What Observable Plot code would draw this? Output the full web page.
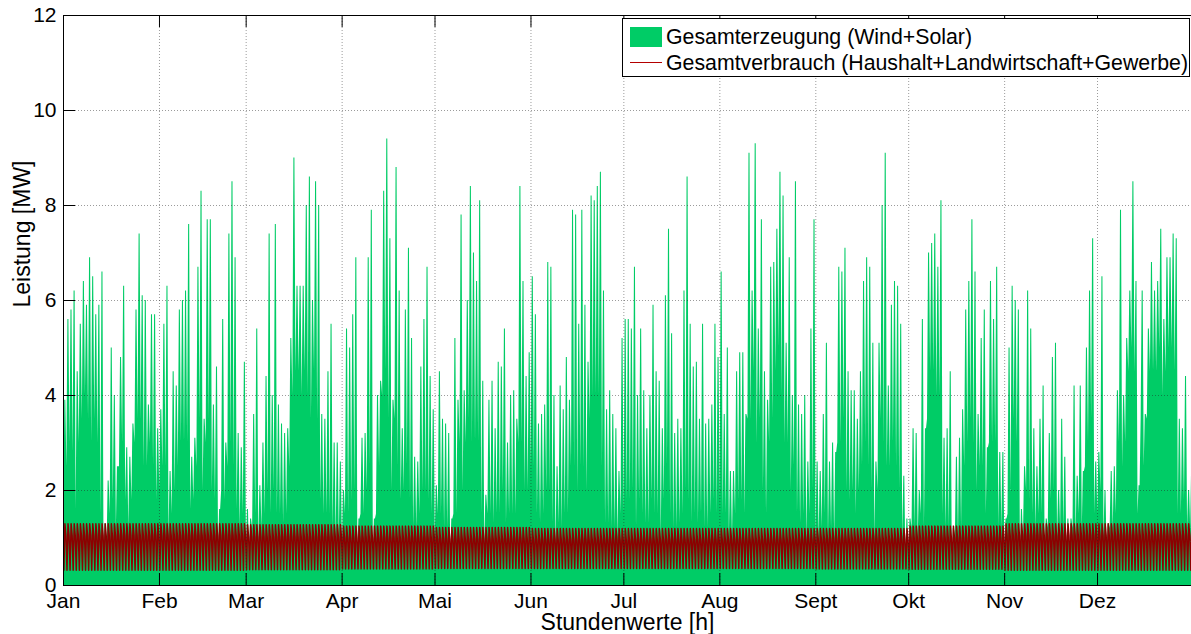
<!DOCTYPE html>
<html>
<head>
<meta charset="utf-8">
<script src="https://cdn.jsdelivr.net/npm/d3@7"></script>
<script src="https://cdn.jsdelivr.net/npm/@observablehq/plot@0.6"></script>
<style>
  body { margin: 0; background: #fff; font-family: "Liberation Sans", Arial, sans-serif; }
  #wrap { position: relative; width: 1191px; height: 634px; overflow: hidden; }
  #legend { position: absolute; left: 622px; top: 18px; width: 566px; height: 57px;
            border: 1px solid #000; background: #fff; font-size: 21.3px; color: #000; }
  #legend .patch { position: absolute; left: 7px; top: 8px; width: 32px; height: 20px; background: #00cc66; }
  #legend .strich { position: absolute; left: 7px; top: 43px; width: 32px; height: 0; border-top: 1px solid #b40000; }
  #legend .txt { position: absolute; left: 43px; line-height: 24px; white-space: nowrap; }
</style>
</head>
<body>
<div id="wrap">
  <div id="chart"></div>
  <div id="legend">
    <div class="patch"></div>
    <div class="txt" style="top:6px">Gesamterzeugung (Wind+Solar)</div>
    <div class="strich"></div>
    <div class="txt" style="top:32px">Gesamtverbrauch (Haushalt+Landwirtschaft+Gewerbe)</div>
  </div>
</div>
<script>
// Monate und Achsenbeschriftung
const monatsNamen = ["Jan", "Feb", "Mar", "Apr", "Mai", "Jun", "Jul", "Aug", "Sept", "Okt", "Nov", "Dez"];
const monatsTage = [31, 28, 31, 30, 31, 30, 31, 31, 30, 31, 30, 31];
const yTicks = [0, 2, 4, 6, 8, 10, 12];

// Erzeugung (Wind+Solar): Tageshöchstwerte in MW, Tag 1..365
const tagesMax = [
  3.9,5.6,5.8,6.2,4.5,5.5,6.4,5.9,6.9,6.5,5.7,5.9,6.6,1.3,2.2,5.0,4.0,2.5,4.8,6.3,2.9,2.7,3.4,5.8,7.4,6.1,6.0,3.8,5.7,5.7,
  3.3,3.7,5.5,6.3,2.4,4.5,4.2,5.8,6.0,6.2,7.6,2.7,3.1,6.7,8.3,3.5,7.7,7.7,3.8,4.6,1.6,5.6,3.0,7.4,8.5,6.9,3.2,2.9,4.7,1.6,1.4,
  3.6,5.4,2.1,3.0,4.4,7.4,4.0,7.6,3.8,3.4,3.2,3.3,5.2,9.0,6.3,6.3,6.3,8.0,8.6,6.0,8.5,8.0,3.6,3.5,4.5,5.5,3.0,3.0,2.6,2.0,5.4,
  5.0,5.7,6.9,1.4,3.1,3.2,6.9,7.9,1.4,4.0,4.3,8.3,9.4,7.3,3.9,8.8,6.2,3.3,5.8,7.1,5.2,2.7,2.6,4.6,5.6,6.7,4.4,3.7,2.1,4.5,3.5,
  3.4,3.2,1.4,5.2,3.9,7.8,4.1,6.0,8.4,7.0,6.4,8.1,4.3,1.9,3.9,4.3,3.3,4.7,4.6,5.4,3.0,4.0,4.1,3.5,8.4,6.4,4.4,4.9,6.5,5.7,3.4,
  3.6,3.8,6.8,6.7,4.0,2.5,4.2,3.7,4.8,3.9,7.9,7.8,5.5,7.9,5.9,4.7,8.2,8.1,8.4,8.7,6.2,3.7,4.1,3.6,3.3,2.4,5.2,5.6,5.6,5.4,
  6.7,4.0,5.4,4.1,3.3,4.0,5.9,4.5,4.3,3.3,6.1,7.5,5.3,3.2,3.5,3.3,6.2,8.6,5.5,4.6,4.7,3.5,5.5,3.4,3.5,3.8,5.5,4.8,6.6,3.6,
  5.0,2.4,2.4,4.5,4.9,4.9,3.6,9.1,6.2,9.3,5.4,7.7,4.5,3.9,6.7,6.8,7.5,8.7,8.2,5.1,6.9,4.0,8.5,3.8,3.6,4.0,2.6,5.4,7.7,2.6,2.4,
  3.6,5.1,2.6,3.0,2.8,6.7,6.6,7.1,4.5,4.1,4.1,3.5,4.5,6.4,6.9,6.7,5.1,2.6,5.1,8.0,9.1,4.2,5.9,6.4,6.3,5.5,2.3,1.4,1.4,3.3,3.2,
  2.0,5.6,3.3,7.0,7.2,7.4,6.7,8.1,3.1,3.3,4.5,1.2,2.7,3.1,3.7,5.8,6.4,7.7,6.6,3.6,5.2,5.8,2.9,6.4,5.6,6.7,2.8,2.8,1.4,5.0,6.3,
  6.0,5.8,1.6,2.5,6.2,5.4,3.3,2.5,3.5,4.2,1.4,3.2,4.8,5.1,2.0,3.5,2.7,1.4,1.4,4.2,2.3,4.2,2.4,5.0,6.2,7.3,2.6,2.8,6.5,2.0,
  1.3,2.4,2.5,4.1,7.9,4.0,5.2,6.2,8.5,6.4,2.1,6.2,3.6,5.4,6.8,6.2,6.4,7.5,5.6,6.9,6.9,7.4,7.3,3.5,3.3,4.4,2.0,2.6
];

// Erzeugung (Wind+Solar): Tagestiefstwerte in MW, Tag 1..365
const tagesMin = [
  1.0,2.5,3.0,2.8,1.6,3.0,3.5,4.0,3.5,3.0,3.5,3.0,1.5,0.6,0.8,1.5,1.8,1.2,2.5,3.0,1.8,1.2,1.8,3.0,3.5,3.5,2.5,2.5,3.0,2.5,
  1.8,2.0,2.5,2.5,1.0,1.5,2.0,2.5,3.0,3.0,3.0,1.6,1.8,2.5,3.5,2.0,3.0,3.5,2.0,1.8,0.8,2.0,1.8,2.5,3.0,2.5,1.6,1.2,1.5,0.8,0.6,
  1.2,1.5,0.8,1.2,1.5,2.0,1.5,2.0,1.5,1.5,1.3,1.5,2.5,4.0,4.5,4.5,4.0,4.5,4.0,3.5,4.5,3.5,1.8,1.5,1.5,1.5,1.2,1.0,1.0,0.8,1.5,
  1.5,1.8,2.0,0.6,1.5,1.5,2.0,2.5,0.6,1.5,2.5,4.0,4.5,3.5,2.0,3.5,2.5,1.8,2.0,2.5,1.8,1.2,1.2,1.5,2.0,2.0,1.8,1.5,1.0,1.5,1.5,
  1.2,1.2,0.6,1.5,1.5,3.0,2.0,3.0,3.5,3.0,3.0,3.0,1.5,0.8,1.5,1.5,1.3,1.5,1.5,2.0,1.3,1.5,1.5,1.5,3.0,3.0,2.0,2.0,2.5,2.5,1.5,
  1.3,1.5,2.0,2.0,1.3,0.8,1.3,1.2,1.5,1.5,2.5,2.5,2.0,2.5,2.5,2.0,3.5,4.0,4.0,4.0,2.5,1.3,1.3,1.2,1.2,1.0,1.5,1.5,1.8,1.8,
  2.0,1.2,1.8,1.5,1.3,1.3,1.8,1.5,1.5,1.0,1.8,2.5,1.5,1.2,1.2,1.3,1.5,2.0,1.8,1.3,1.5,1.3,1.5,1.2,1.2,1.5,1.8,1.5,1.8,1.5,
  1.5,1.0,1.0,1.5,1.8,1.8,1.5,3.5,3.5,4.5,3.0,3.5,2.0,1.5,3.0,3.5,4.5,5.0,4.0,3.0,3.0,2.0,2.5,1.5,1.3,1.5,1.0,1.5,2.0,1.0,1.0,
  1.2,1.5,1.0,1.2,1.0,3.0,3.0,3.5,2.0,1.8,2.0,1.5,2.0,2.5,3.0,2.5,2.0,1.0,2.0,3.5,3.0,2.5,2.5,3.0,2.5,2.0,1.0,0.6,0.6,1.2,1.2,
  1.0,1.5,1.2,3.5,4.5,4.5,4.0,4.0,1.5,1.2,1.2,0.5,1.0,1.0,1.2,2.5,3.0,3.5,3.0,2.0,2.5,2.5,1.5,3.0,3.0,3.0,1.2,1.2,0.6,1.5,2.0,
  3.5,3.0,0.6,1.0,2.0,1.8,1.5,1.2,1.5,1.5,0.6,1.2,1.8,2.0,1.0,1.2,1.2,0.6,0.6,1.2,1.0,1.5,1.2,2.5,3.0,3.5,1.5,1.5,2.0,1.0,
  0.6,1.2,1.2,1.5,3.0,2.5,3.0,4.5,5.0,4.5,1.5,3.5,2.5,3.5,4.5,4.5,4.5,5.0,4.0,4.5,5.0,5.0,4.5,1.5,1.5,1.8,1.2,1.2
];

// Verbrauch (Haushalt+Landwirtschaft+Gewerbe): typische Tageswerte je Monat in MW
const verbrauchNacht  = [0.32, 0.32, 0.33, 0.35, 0.36, 0.36, 0.36, 0.36, 0.35, 0.34, 0.32, 0.32];
const verbrauchMittag = [1.30, 1.30, 1.28, 1.25, 1.22, 1.20, 1.20, 1.20, 1.20, 1.25, 1.30, 1.30];
const verbrauchAbend  = [1.05, 1.05, 1.02, 1.00, 0.98, 0.96, 0.96, 0.96, 0.98, 1.00, 1.05, 1.05];

// Stundenachse: Monatsanfänge in Stunden
const monatsStart = [];
{ let h = 0; for (const t of monatsTage) { monatsStart.push(h); h += t * 24; } }
const monatVonTag = [];
monatsTage.forEach((t, m) => { for (let i = 0; i < t; i++) monatVonTag.push(m); });

// Tagesverlauf der Erzeugung: Tiefstwert in der Nacht, Höchstwert tagsüber
const erzeugung = [];
tagesMax.forEach((mx, d) => {
  erzeugung.push({stunde: d * 24 + 2, mw: tagesMin[d]});
  erzeugung.push({stunde: d * 24 + 10, mw: mx});
  erzeugung.push({stunde: d * 24 + 18, mw: mx});
});

const verbrauch = [];
monatVonTag.forEach((m, d) => {
  verbrauch.push({stunde: d * 24 + 3, mw: verbrauchNacht[m]});
  verbrauch.push({stunde: d * 24 + 11, mw: verbrauchMittag[m]});
  verbrauch.push({stunde: d * 24 + 19, mw: verbrauchAbend[m]});
});

const W = 1191, H = 634;
const mL = 63, mT = 15, mB = 49;
const xRange = [mL, 1193];
const pxProStunde = (xRange[1] - xRange[0]) / 8760;
const pxProMW = (H - mT - mB) / 12;
const tickPx = 12;
const tickH = tickPx / pxProStunde;  // Ticklänge in Stunden
const tickMW = tickPx / pxProMW;     // Ticklänge in MW

const grid = {stroke: "#222", strokeOpacity: 0.45, strokeDasharray: "1,2", strokeWidth: 1};

const chart = Plot.plot({
  width: W, height: H,
  marginLeft: mL, marginRight: 0, marginTop: mT, marginBottom: mB,
  style: {fontFamily: "'Liberation Sans', Arial, sans-serif", fontSize: "21px", color: "#000", background: "#fff"},
  x: {domain: [0, 8760], range: xRange},
  y: {domain: [0, 12]},
  marks: [
    Plot.areaY(erzeugung, {x: "stunde", y: "mw", fill: "#00cc66", curve: "linear"}),
    Plot.line(verbrauch, {x: "stunde", y: "mw", stroke: "#8c0000", strokeWidth: 1.5, curve: "linear"}),
    Plot.ruleX(monatsStart.slice(1), {...grid}),
    Plot.ruleY(yTicks.slice(1, -1), {...grid}),
    Plot.ruleX([0], {stroke: "#000"}),
    Plot.ruleY([0, 12], {stroke: "#000"}),
    Plot.ruleX(monatsStart, {y1: 0, y2: tickMW, stroke: "#000"}),
    Plot.ruleX(monatsStart, {y1: 12 - tickMW, y2: 12, stroke: "#000"}),
    Plot.ruleY(yTicks, {x1: 0, x2: tickH, stroke: "#000"}),
    Plot.axisX(monatsStart, {anchor: "bottom", tickSize: 0, tickPadding: 8, fontSize: 21,
      tickFormat: d => monatsNamen[monatsStart.indexOf(d)], label: null}),
    Plot.axisY(yTicks, {anchor: "left", tickSize: 0, tickPadding: 7, fontSize: 21, label: null}),
    Plot.text(["Stundenwerte [h]"], {frameAnchor: "bottom", dy: 37, fontSize: 23, fill: "#000", lineAnchor: "middle"}),
    Plot.text(["Leistung [MW]"], {frameAnchor: "left", dx: -41, dy: 7, rotate: -90, fontSize: 23, fill: "#000", lineAnchor: "middle"})
  ]
});
document.getElementById("chart").appendChild(chart);
</script>
</body>
</html>
